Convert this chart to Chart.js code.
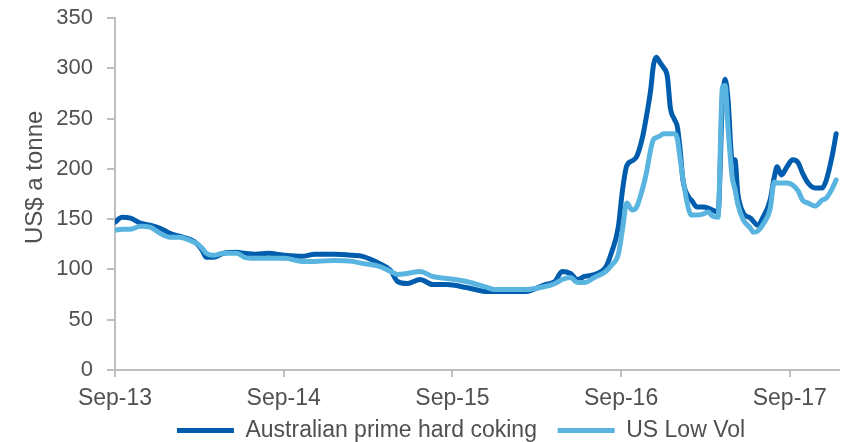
<!DOCTYPE html>
<html>
<head>
<meta charset="utf-8">
<script src="https://cdn.jsdelivr.net/npm/chart.js@4"></script>
<style>
  html, body { margin: 0; padding: 0; background: #fff; }
  #wrap { width: 841px; height: 442px; }
</style>
</head>
<body>
<div id="wrap"><canvas id="c" width="841" height="442"></canvas></div>
<script>
// Months since Sep-2013 (x position of each observation)
const months = [0, 0.5, 1.1, 1.8, 2.5, 3.2, 3.9, 4.6, 5.3, 5.8,
  6.2, 6.5, 7.0, 7.7, 8.7, 9.2, 10.0, 10.9, 12.1, 13.3,
  14.2, 15.6, 16.9, 17.6, 18.8, 19.6, 20.1, 20.8, 21.7, 22.6,
  23.6, 25.0, 26.5, 27.0, 29.2, 30.6, 31.3, 31.8, 32.4, 32.9,
  33.4, 34.1, 34.9, 35.3, 35.8, 36.1, 36.4, 36.8, 37.1, 37.5,
  37.8, 38.1, 38.3, 38.5, 38.8, 39.0, 39.3, 39.5, 39.8, 40.0,
  40.2, 40.4, 40.8, 41.0, 41.4, 41.8, 42.2, 42.5, 42.9, 43.2,
  43.4, 43.6, 43.9, 44.1, 44.3, 44.7, 45.2, 45.4, 45.7, 46.1,
  46.6, 46.9, 47.1, 47.4, 47.8, 48.2, 48.6, 48.9, 49.3, 49.8,
  50.3, 50.6, 51.0, 51.3];

const australianPrimeHardCoking = [147, 152, 151, 146, 144, 141, 136, 133, 130, 126,
  119, 112, 112, 116, 117, 116, 115, 116, 114, 113,
  115, 115, 114, 113, 106, 99, 88, 86, 90, 85,
  85, 82, 78, 78, 78, 85, 88, 98, 96, 90,
  93, 95, 102, 116, 142, 179, 203, 208, 212, 230,
  252, 278, 303, 311, 305, 301, 291, 261, 249, 242,
  219, 189, 172, 169, 162, 162, 161, 159, 157, 265,
  289, 270, 209, 209, 176, 156, 151, 148, 144, 152,
  169, 192, 202, 194, 202, 209, 206, 196, 186, 181,
  181, 189, 212, 235];

const usLowVol = [139, 140, 140, 143, 142, 136, 132, 132, 129, 126,
  121, 116, 114, 116, 116, 112, 111, 111, 111, 108,
  108, 109, 108, 106, 103, 98, 95, 96, 98, 93,
  91, 88, 82, 80, 80, 83, 86, 90, 92, 87,
  87, 92, 98, 104, 115, 140, 166, 159, 162, 179,
  196, 219, 229, 231, 233, 235, 235, 235, 235, 230,
  210, 190, 160, 154, 154, 155, 157, 153, 152, 281,
  283, 242, 192, 180, 165, 149, 141, 137, 138, 145,
  160, 187, 186, 186, 186, 184, 178, 169, 166, 163,
  169, 171, 180, 189];

const seriesNames = ['Australian prime hard coking', 'US Low Vol'];
const tickLabels = ['Sep-13', 'Sep-14', 'Sep-15', 'Sep-16', 'Sep-17'];
const yTitle = 'US$ a tonne';

const FONT = "'Liberation Sans', Arial, sans-serif";
const TXT = '#505050';
const AXIS = '#BFBFBF';
const DARK = '#005DAE';
const LIGHT = '#5AB4E0';
const legendTrail = ['  ', '     '];

function pts(vals) { return months.map((m, i) => ({ x: m, y: vals[i] })); }

new Chart(document.getElementById('c'), {
  type: 'line',
  data: {
    datasets: [
      { label: seriesNames[0], data: pts(australianPrimeHardCoking), borderColor: DARK, backgroundColor: DARK,
        borderWidth: 5, pointRadius: 0, cubicInterpolationMode: 'monotone', borderCapStyle: 'round', borderJoinStyle: 'round', order: 1 },
      { label: seriesNames[1], data: pts(usLowVol), borderColor: LIGHT, backgroundColor: LIGHT,
        borderWidth: 5, pointRadius: 0, cubicInterpolationMode: 'monotone', borderCapStyle: 'round', borderJoinStyle: 'round', order: 0 }
    ]
  },
  options: {
    responsive: false,
    animation: false,
    devicePixelRatio: 1,
    layout: { padding: { top: 18, right: 2, left: 0, bottom: -10 } },
    plugins: {
      tooltip: { enabled: false },
      legend: {
        position: 'bottom',
        fullSize: false,
        labels: {
          usePointStyle: true,
          pointStyle: 'line',
          pointStyleWidth: 57,
          padding: 8,
          color: TXT,
          font: { family: FONT, size: 23 },
          sort: (a, b) => a.datasetIndex - b.datasetIndex,
          generateLabels: (chart) => {
            const items = Chart.defaults.plugins.legend.labels.generateLabels(chart);
            items.forEach(it => { it.text = it.text + legendTrail[it.datasetIndex]; });
            return items;
          }
        }
      }
    },
    scales: {
      x: {
        type: 'linear',
        min: 0,
        max: 51.5,
        border: { display: true, color: AXIS, width: 2 },
        grid: { display: true, drawOnChartArea: false, drawTicks: true, tickLength: 7, color: AXIS, lineWidth: 2 },
        ticks: {
          stepSize: 12,
          includeBounds: false,
          autoSkip: false,
          maxRotation: 0,
          padding: 8,
          color: TXT,
          font: { family: FONT, size: 23 },
          callback: (v) => (v % 12 === 0 ? tickLabels[v / 12] : '')
        },
        afterFit: (s) => { s.height = 41; }
      },
      y: {
        min: 0,
        max: 350,
        border: { display: true, color: AXIS, width: 2 },
        grid: { display: true, drawOnChartArea: false, drawTicks: true, tickLength: 8, color: AXIS, lineWidth: 2 },
        ticks: { stepSize: 50, padding: 14, color: TXT, font: { family: FONT, size: 22 } },
        title: { display: true, text: '     ' + yTitle, color: TXT, font: { family: FONT, size: 24 }, padding: { top: 21, bottom: 0 } },
        afterFit: (s) => { s.width = 115; s.paddingTop = 0; s.paddingBottom = 0; }
      }
    }
  }
});
</script>
</body>
</html>
